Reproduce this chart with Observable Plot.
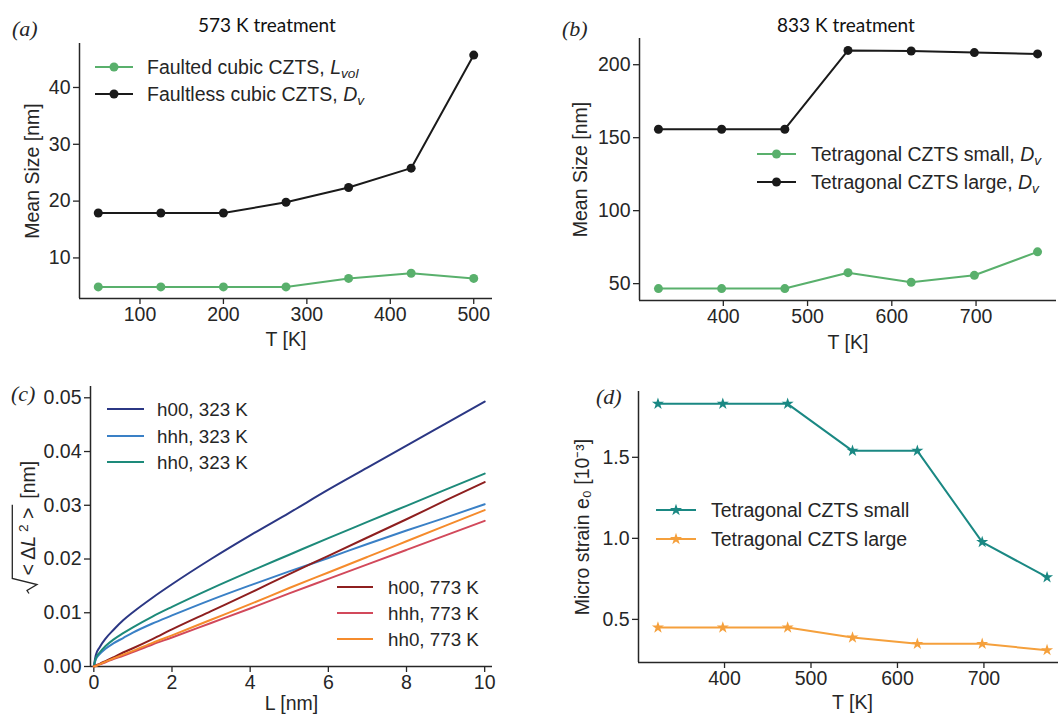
<!DOCTYPE html>
<html><head><meta charset="utf-8">
<script src="https://cdn.jsdelivr.net/npm/d3@7"></script>
<script src="https://cdn.jsdelivr.net/npm/@observablehq/plot@0.6"></script>
<style>
body{margin:0;background:#fff;}
#fig{position:relative;width:1058px;height:714px;overflow:hidden;background:#fff;font-family:"Liberation Sans",Arial,sans-serif;color:#262626;}
</style></head>
<body><div id="fig"></div>
<script>
// ---------- data ----------
// (a) 573 K treatment
const tempA = [50, 125, 200, 275, 350, 425, 500];
const faultedA = [4.9, 4.9, 4.9, 4.9, 6.4, 7.3, 6.4];
const faultlessA = [17.9, 17.9, 17.9, 19.8, 22.4, 25.8, 45.7];
// (b) 833 K treatment
const tempB = [323, 398, 473, 548, 623, 698, 773];
const smallB = [46.6, 46.6, 46.6, 57.5, 50.9, 55.7, 71.8];
const largeB = [155.8, 155.8, 155.8, 209.8, 209.4, 208.3, 207.4];
// (c) sqrt(<dL^2>) vs L
const lGrid = [0, 0.05, 0.15, 0.3, 0.5, 0.75, 1, 1.5, 2, 3, 4, 5, 6, 7, 8, 9, 10];
const h00_323 = [0, 0.0021, 0.0036, 0.0052, 0.0068, 0.0086, 0.0101, 0.0128, 0.0153, 0.0200, 0.0244, 0.0286, 0.0329, 0.0370, 0.0411, 0.0452, 0.0493];
const hhh_323 = [0, 0.0013, 0.0023, 0.0033, 0.0043, 0.0053, 0.0063, 0.0080, 0.0095, 0.0124, 0.0151, 0.0177, 0.0202, 0.0228, 0.0253, 0.0277, 0.0302];
const hh0_323 = [0, 0.0015, 0.0026, 0.0038, 0.0050, 0.0062, 0.0073, 0.0093, 0.0111, 0.0145, 0.0177, 0.0208, 0.0239, 0.0269, 0.0299, 0.0329, 0.0359];
const h00_773 = [0, 0.0002, 0.0005, 0.0010, 0.0017, 0.0026, 0.0034, 0.0051, 0.0069, 0.0103, 0.0137, 0.0172, 0.0206, 0.0240, 0.0274, 0.0309, 0.0343];
const hhh_773 = [0, 0.0001, 0.0004, 0.0008, 0.0014, 0.0020, 0.0027, 0.0041, 0.0054, 0.0081, 0.0108, 0.0136, 0.0163, 0.0190, 0.0217, 0.0244, 0.0271];
const hh0_773 = [0, 0.0001, 0.0004, 0.0009, 0.0015, 0.0022, 0.0029, 0.0044, 0.0058, 0.0087, 0.0116, 0.0146, 0.0175, 0.0204, 0.0233, 0.0262, 0.0291];
const seriesC = ["h00, 323 K", "hhh, 323 K", "hh0, 323 K", "h00, 773 K", "hhh, 773 K", "hh0, 773 K"];
const valuesC = [h00_323, hhh_323, hh0_323, h00_773, hhh_773, hh0_773];
const colorsC = ["#2b3784", "#3a80c6", "#1d8a7a", "#8e1f1f", "#d2495b", "#f58b2c"];
// (d) micro strain
const tempD = [323, 398, 473, 548, 623, 698, 773];
const strainSmall = [1.83, 1.83, 1.83, 1.54, 1.54, 0.977, 0.76];
const strainLarge = [0.45, 0.45, 0.45, 0.388, 0.349, 0.349, 0.31];
// ticks
const ticksAx = [100, 200, 300, 400, 500];
const ticksAy = [10, 20, 30, 40];
const ticksBx = [400, 500, 600, 700];
const ticksBy = [50, 100, 150, 200];
const ticksCx = [0, 2, 4, 6, 8, 10];
const ticksCy = [0, 0.01, 0.02, 0.03, 0.04, 0.05];
const domainCx = [-0.085, 10.2];
const domainCy = [0, 0.0521];
const ticksDx = [400, 500, 600, 700];
const ticksDy = [0.5, 1.0, 1.5];

// ---------- helpers ----------
const ink = "#262626";
const green = "#59b06c";
const black = "#1a1a1a";
const teal = "#1a8883";
const orange = "#f5a03c";
const FS = 19.5;
const fig = document.getElementById("fig");
const style = {fontFamily: '"Liberation Sans", Arial, sans-serif', fontSize: FS + "px", color: ink, background: "transparent", overflow: "visible"};

function mpl(vals) { const [lo, hi] = d3.extent(vals); const p = (hi - lo) * 0.05; return [lo - p, hi + p]; }
function rows(xs, ys, s) { return xs.map((x, i) => ({x, y: ys[i], s})); }
function place(svg, left, top) {
  svg.style.position = "absolute"; svg.style.left = left + "px"; svg.style.top = top + "px";
  fig.appendChild(svg);
}
function axes(o) {
  return [
    Plot.axisX({ticks: o.xTicks, tickFormat: o.xFmt, tickSize: 6, tickPadding: 3, strokeWidth: 1.3,
      label: o.xLabel, labelAnchor: "center", labelOffset: o.xOff, labelArrow: "none"}),
    Plot.axisY({ticks: o.yTicks, tickFormat: o.yFmt, tickSize: 6, tickPadding: 3, strokeWidth: 1.3,
      label: o.yLabel, labelAnchor: "center", labelOffset: o.yOff, labelArrow: "none"})
  ];
}
function spines(xd, yd) {
  return [Plot.ruleY([yd[0]], {stroke: ink, strokeWidth: 1.5}), Plot.ruleX([xd[0]], {stroke: ink, strokeWidth: 1.5})];
}

// ---------- (a) ----------
{
  const xd = mpl(tempA), yd = mpl(faultedA.concat(faultlessA));
  const svg = Plot.plot({
    width: 530, height: 360, marginLeft: 79, marginRight: 38, marginTop: 43, marginBottom: 62,
    x: {domain: xd}, y: {domain: yd}, style,
    marks: [
      ...axes({xTicks: ticksAx, yTicks: ticksAy, xLabel: "T [K]", yLabel: "Mean Size [nm]", xOff: 47, yOff: 54}),
      ...spines(xd, yd),
      Plot.line(rows(tempA, faultedA), {x: "x", y: "y", stroke: green, strokeWidth: 2}),
      Plot.dot(rows(tempA, faultedA), {x: "x", y: "y", fill: green, r: 4.5}),
      Plot.line(rows(tempA, faultlessA), {x: "x", y: "y", stroke: black, strokeWidth: 2}),
      Plot.dot(rows(tempA, faultlessA), {x: "x", y: "y", fill: black, r: 4.5})
    ]
  });
  place(svg, 0, 0);
}
// ---------- (b) ----------
{
  const xd = mpl(tempB), yd = mpl(smallB.concat(largeB));
  const svg = Plot.plot({
    width: 528, height: 360, marginLeft: 109, marginRight: 2, marginTop: 38, marginBottom: 60,
    x: {domain: xd}, y: {domain: yd}, style,
    marks: [
      ...axes({xTicks: ticksBx, yTicks: ticksBy, xLabel: "T [K]", yLabel: "Mean Size [nm]", xOff: 48, yOff: 66}),
      ...spines(xd, yd),
      Plot.line(rows(tempB, smallB), {x: "x", y: "y", stroke: green, strokeWidth: 2}),
      Plot.dot(rows(tempB, smallB), {x: "x", y: "y", fill: green, r: 4.5}),
      Plot.line(rows(tempB, largeB), {x: "x", y: "y", stroke: black, strokeWidth: 2}),
      Plot.dot(rows(tempB, largeB), {x: "x", y: "y", fill: black, r: 4.5})
    ]
  });
  place(svg, 530, 0);
}
// ---------- (c) ----------
{
  const data = valuesC.flatMap((vals, k) => rows(lGrid, vals, seriesC[k]));
  const svg = Plot.plot({
    width: 530, height: 370, marginLeft: 90, marginRight: 38, marginTop: 26, marginBottom: 64,
    x: {domain: domainCx}, y: {domain: domainCy},
    color: {domain: seriesC, range: colorsC}, style,
    marks: [
      ...axes({xTicks: ticksCx, yTicks: ticksCy, yFmt: d3.format(".2f"), xLabel: "L [nm]", yLabel: null, xOff: 43, yOff: 0}),
      ...spines(domainCx, domainCy),
      Plot.line(data, {x: "x", y: "y", z: "s", stroke: "s", strokeWidth: 2, curve: "monotone-x"})
    ]
  });
  place(svg, 0, 360);
}
// ---------- (d) ----------
{
  const xd = mpl(tempD), yd = mpl(strainSmall.concat(strainLarge));
  const svg = Plot.plot({
    width: 540, height: 370, marginLeft: 108, marginRight: 4, marginTop: 31, marginBottom: 68,
    x: {domain: xd}, y: {domain: yd}, style,
    marks: [
      ...axes({xTicks: ticksDx, yTicks: ticksDy, yFmt: d3.format(".1f"), xLabel: "T [K]", yLabel: "Micro strain e\u2080 [10\u207B\u00B3]", xOff: 46, yOff: 63}),
      ...spines(xd, yd),
      Plot.line(rows(tempD, strainSmall), {x: "x", y: "y", stroke: teal, strokeWidth: 2}),
      Plot.dot(rows(tempD, strainSmall), {x: "x", y: "y", fill: teal, symbol: "star", r: 3.8}),
      Plot.line(rows(tempD, strainLarge), {x: "x", y: "y", stroke: orange, strokeWidth: 2}),
      Plot.dot(rows(tempD, strainLarge), {x: "x", y: "y", fill: orange, symbol: "star", r: 3.8})
    ]
  });
  place(svg, 530, 360);
}

// ---------- overlay: titles, panel letters, legends ----------
const ov = d3.create("svg").attr("width", 1058).attr("height", 714)
  .style("position", "absolute").style("left", "0px").style("top", "0px").style("overflow", "visible");
fig.appendChild(ov.node());
const sans = '"Liberation Sans", Arial, sans-serif';

function letter(txt, x, y) {
  ov.append("text").attr("x", x).attr("y", y).attr("font-family", '"Liberation Serif", serif')
    .attr("font-style", "italic").attr("font-size", 22).attr("fill", ink).text(txt);
}
letter("(a)", 12, 36); letter("(b)", 562, 36); letter("(c)", 11, 401); letter("(d)", 596, 404);

function title(txt, x, y) {
  ov.append("text").attr("x", x).attr("y", y).attr("text-anchor", "middle")
    .attr("font-family", "Lato, sans-serif").attr("font-size", 19).attr("fill", "#111").text(txt);
}
title("573 K treatment", 267, 32); title("833 K treatment", 846, 32);

function legendRow({x1, x2, y, tx, color, marker, fontSize = FS, parts}) {
  ov.append("line").attr("x1", x1).attr("x2", x2).attr("y1", y).attr("y2", y)
    .attr("stroke", color).attr("stroke-width", 2);
  const mx = (x1 + x2) / 2;
  if (marker === "dot") ov.append("circle").attr("cx", mx).attr("cy", y).attr("r", 4.5).attr("fill", color);
  if (marker === "star") ov.append("path").attr("d", d3.symbol(d3.symbolStar, Math.PI * 3.8 * 3.8)())
    .attr("transform", `translate(${mx},${y})`).attr("fill", color);
  const t = ov.append("text").attr("x", tx).attr("y", y).attr("dy", "0.35em")
    .attr("font-size", fontSize).attr("fill", ink).attr("font-family", sans);
  for (const p of parts) {
    const s = t.append("tspan").text(p.t);
    if (p.i) s.attr("font-style", "italic");
    if (p.sub) s.attr("font-size", fontSize * 0.7).attr("dy", p.sub);
  }
}
// (a)
legendRow({x1: 95, x2: 133, y: 67, tx: 147, color: green, marker: "dot",
  parts: [{t: "Faulted cubic CZTS, "}, {t: "L", i: true}, {t: "vol", i: true, sub: "0.3em"}]});
legendRow({x1: 95, x2: 133, y: 94, tx: 147, color: black, marker: "dot",
  parts: [{t: "Faultless cubic CZTS, "}, {t: "D", i: true}, {t: "v", i: true, sub: "0.3em"}]});
// (b)
legendRow({x1: 757, x2: 796, y: 154, tx: 811, color: green, marker: "dot",
  parts: [{t: "Tetragonal CZTS small, "}, {t: "D", i: true}, {t: "v", i: true, sub: "0.3em"}]});
legendRow({x1: 757, x2: 796, y: 182, tx: 811, color: black, marker: "dot",
  parts: [{t: "Tetragonal CZTS large, "}, {t: "D", i: true}, {t: "v", i: true, sub: "0.3em"}]});
// (c)
const legYC = [409, 436, 462, 587, 613, 639];
seriesC.forEach((s, k) => {
  const second = k >= 3;
  legendRow({x1: second ? 337 : 107, x2: second ? 373 : 144, y: legYC[k], tx: second ? 388 : 157,
    color: colorsC[k], fontSize: 18.8, parts: [{t: s}]});
});
// (d)
legendRow({x1: 656, x2: 696, y: 510, tx: 711, color: teal, marker: "star", parts: [{t: "Tetragonal CZTS small"}]});
legendRow({x1: 656, x2: 696, y: 539, tx: 711, color: orange, marker: "star", parts: [{t: "Tetragonal CZTS large"}]});

// (c) y label: sqrt(<ΔL²>) [nm], rotated
{
  const g = ov.append("g").attr("transform", "translate(35,523.5) rotate(-90)");
  const t1 = g.append("text").attr("x", -52).attr("y", 0).attr("font-size", FS).attr("fill", ink).attr("font-family", sans);
  t1.append("tspan").text("< \u0394");
  t1.append("tspan").attr("font-style", "italic").text("L");
  t1.append("tspan").attr("font-size", FS * 0.7).attr("dy", "-0.55em").text(" 2");
  t1.append("tspan").attr("dy", "0.385em").text(" >");
  const bb = t1.node().getBBox();
  const xe = bb.x + bb.width;
  g.append("path").attr("fill", "none").attr("stroke", ink).attr("stroke-width", 1.3)
    .attr("d", `M-70,-6 L-67,-8 L-61,2 L-55,-22.7 L${xe + 3},-22.7`);
  g.append("text").attr("x", xe + 9).attr("y", 0).attr("font-size", FS).attr("fill", ink)
    .attr("font-family", sans).text("[nm]");
}
</script>
</body></html>
